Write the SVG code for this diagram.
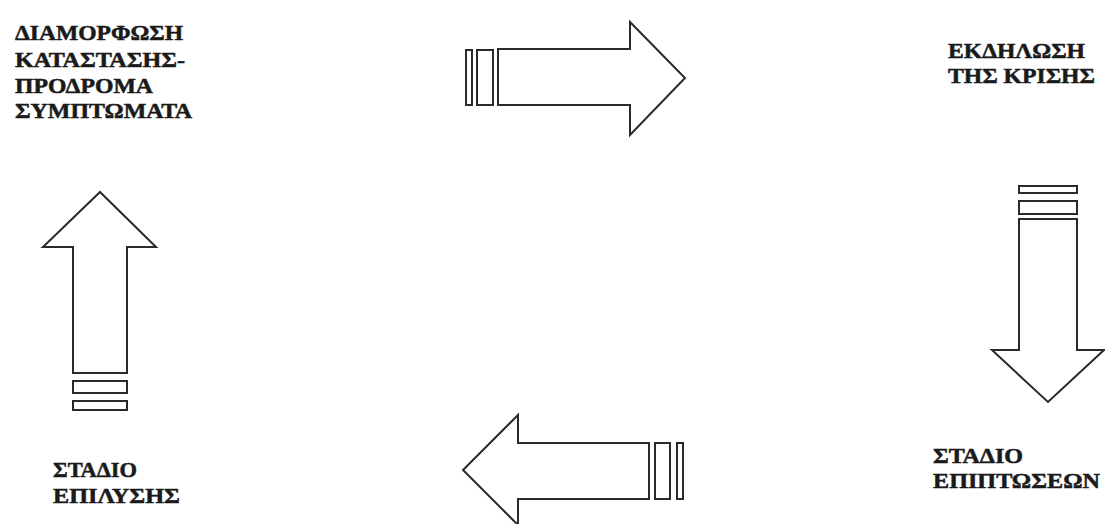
<svg xmlns="http://www.w3.org/2000/svg" width="1105" height="524" viewBox="0 0 1105 524">
<style>
.t{font-family:"Liberation Serif","DejaVu Serif",serif;font-weight:bold;font-size:21px;fill:#1a1a1a;stroke:#1a1a1a;stroke-width:0.5}
.a{fill:#fff;stroke:#2a2a2a;stroke-width:2;stroke-linejoin:miter}
.b{fill:#fff;stroke:#2a2a2a;stroke-width:2}
</style>
<rect width="1105" height="524" fill="#fff"/>
<g id="node-diamorfosi">
<text class="t" x="15" y="40" textLength="168" lengthAdjust="spacingAndGlyphs">ΔΙΑΜΟΡΦΩΣΗ</text>
<text class="t" x="15" y="67" textLength="170" lengthAdjust="spacingAndGlyphs">ΚΑΤΑΣΤΑΣΗΣ-</text>
<text class="t" x="15" y="93" textLength="138" lengthAdjust="spacingAndGlyphs">ΠΡΟΔΡΟΜΑ</text>
<text class="t" x="15" y="118" textLength="177" lengthAdjust="spacingAndGlyphs">ΣΥΜΠΤΩΜΑΤΑ</text>
</g>
<g id="node-ekdilosi">
<text class="t" x="948" y="58" textLength="137" lengthAdjust="spacingAndGlyphs">ΕΚΔΗΛΩΣΗ</text>
<text class="t" x="948" y="83" textLength="147" lengthAdjust="spacingAndGlyphs">ΤΗΣ ΚΡΙΣΗΣ</text>
</g>
<g id="node-epiptoseon">
<text class="t" x="933" y="463" textLength="90" lengthAdjust="spacingAndGlyphs">ΣΤΑΔΙΟ</text>
<text class="t" x="933" y="488" textLength="167" lengthAdjust="spacingAndGlyphs">ΕΠΙΠΤΩΣΕΩΝ</text>
</g>
<g id="node-epilysis">
<text class="t" x="53" y="477" textLength="84" lengthAdjust="spacingAndGlyphs">ΣΤΑΔΙΟ</text>
<text class="t" x="53" y="503" textLength="127" lengthAdjust="spacingAndGlyphs">ΕΠΙΛΥΣΗΣ</text>
</g>
<g id="connectors">
<g id="arrow-top">
<rect class="b" x="466" y="50" width="6" height="55"/>
<rect class="b" x="477" y="50" width="16" height="55"/>
<path class="a" d="M498,49 L630,49 L630,22 L685,78 L630,135 L630,105 L498,105 Z"/>
</g>
<g id="arrow-right">
<rect class="b" x="1019" y="186" width="58" height="7"/>
<rect class="b" x="1019" y="201" width="58" height="13"/>
<path class="a" d="M1019,219 L1077,219 L1077,350 L1104,350 L1048,402 L992,350 L1019,350 Z"/>
</g>
<g id="arrow-bottom">
<rect class="b" x="677" y="443" width="6" height="56"/>
<rect class="b" x="655" y="443" width="15" height="56"/>
<path class="a" d="M649,443 L518,443 L518,415 L463,470 L518,525 L518,499 L649,499 Z"/>
</g>
<g id="arrow-left">
<rect class="b" x="73" y="401" width="54" height="9"/>
<rect class="b" x="73" y="381" width="54" height="12"/>
<path class="a" d="M73,373 L73,247 L43,247 L100,192 L156,247 L127,247 L127,373 Z"/>
</g>
</g>
</svg>
